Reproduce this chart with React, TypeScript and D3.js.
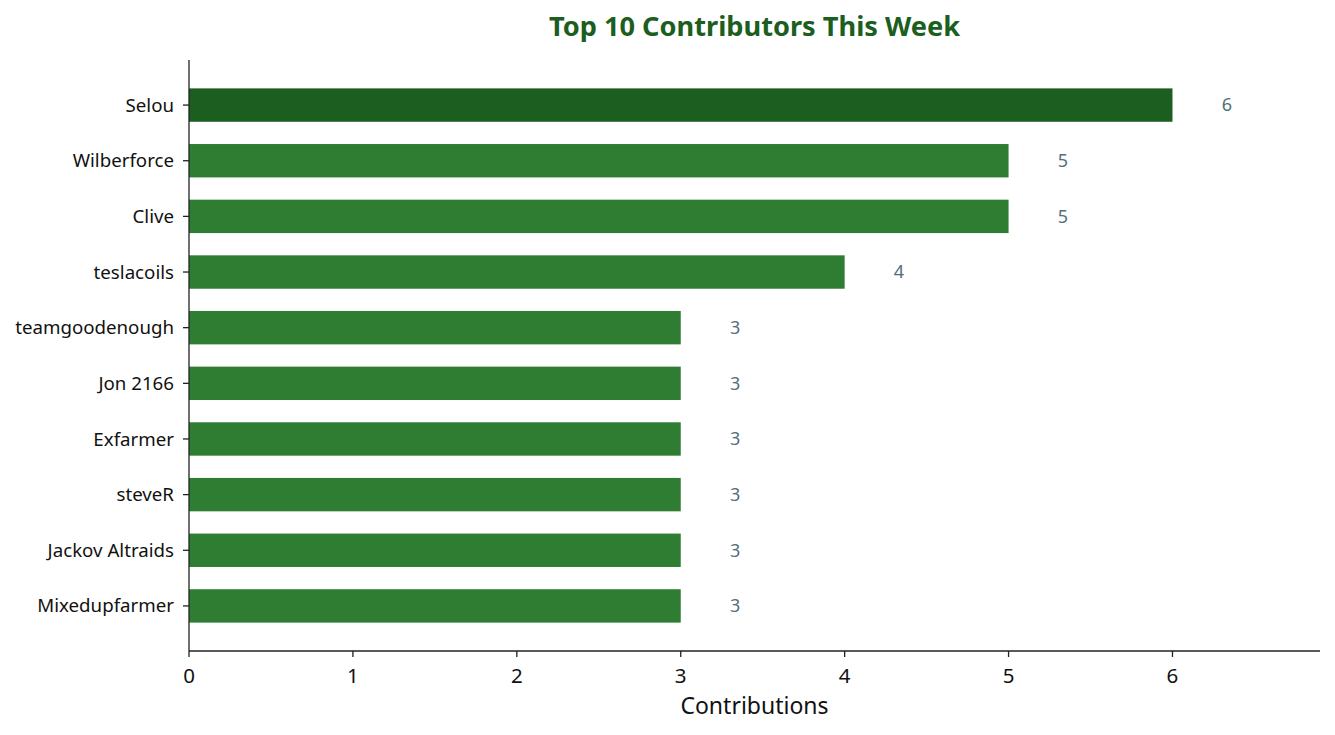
import React from "react";
import * as d3 from "d3";

const names = [
  "Selou",
  "Wilberforce",
  "Clive",
  "teslacoils",
  "teamgoodenough",
  "Jon 2166",
  "Exfarmer",
  "steveR",
  "Jackov Altraids",
  "Mixedupfarmer",
];
const contributions = [6, 5, 5, 4, 3, 3, 3, 3, 3, 3];
const xTicks = [0, 1, 2, 3, 4, 5, 6];
const title = "Top 10 Contributors This Week";
const xLabel = "Contributions";

const W = 1335;
const H = 735;
const left = 189;
const right = 1320;
const top = 60;
const bottom = 651;
const FONT = "'Noto Sans', 'DejaVu Sans', sans-serif";

export default function App() {
  const x = d3.scaleLinear().domain([0, 6.9]).range([left, right]);
  const y = d3
    .scaleLinear()
    .domain([-0.81, names.length - 1 + 0.81])
    .range([top, bottom]);
  const barH = y(0.3) - y(-0.3);
  const axisColor = "#222";

  return (
    <svg
      width={W}
      height={H}
      style={{ position: "absolute", left: 0, top: 0, background: "#fff" }}
      fontFamily={FONT}
    >
      <text
        x={(left + right) / 2}
        y={36}
        textAnchor="middle"
        fontSize={27.2}
        fontWeight="bold"
        fill="#1b5e20"
      >
        {title}
      </text>
      {names.map((n, i) => (
        <g key={n}>
          <rect
            x={x(0)}
            y={y(i) - barH / 2}
            width={x(contributions[i]) - x(0)}
            height={barH}
            fill={i === 0 ? "#1b5e20" : "#2e7d32"}
          />
          <text
            x={x(contributions[i] + 0.3)}
            y={y(i)}
            dy="0.35em"
            fontSize={18}
            fill="#546e7a"
          >
            {contributions[i]}
          </text>
          <line
            x1={left - 6}
            x2={left}
            y1={y(i)}
            y2={y(i)}
            stroke={axisColor}
            strokeWidth={1.3}
          />
          <text
            x={left - 15}
            y={y(i)}
            dy="0.35em"
            textAnchor="end"
            fontSize={18.7}
            fill="#111"
          >
            {n}
          </text>
        </g>
      ))}
      <line x1={left} x2={left} y1={top} y2={bottom} stroke={axisColor} strokeWidth={1.3} />
      <line x1={left} x2={right} y1={bottom} y2={bottom} stroke={axisColor} strokeWidth={1.3} />
      {xTicks.map((t) => (
        <g key={t}>
          <line
            x1={x(t)}
            x2={x(t)}
            y1={bottom}
            y2={bottom + 6}
            stroke={axisColor}
            strokeWidth={1.3}
          />
          <text
            x={x(t)}
            y={683}
            textAnchor="middle"
            fontSize={20.5}
            fill="#111"
          >
            {t}
          </text>
        </g>
      ))}
      <text
        x={(left + right) / 2}
        y={714}
        textAnchor="middle"
        fontSize={23}
        fill="#111"
      >
        {xLabel}
      </text>
    </svg>
  );
}
